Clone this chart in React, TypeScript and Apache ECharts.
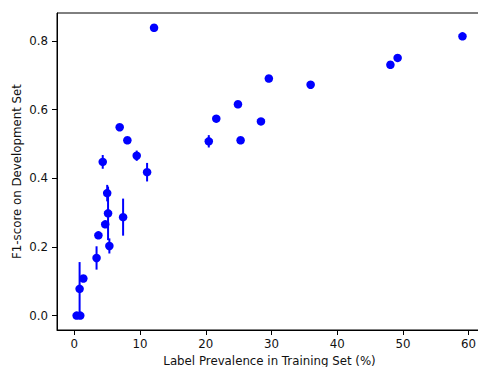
import React, { useEffect, useRef } from "react";
import * as echarts from "echarts";

const prevalence = [0.35, 0.9, 0.8, 1.37, 3.38, 3.66, 4.32, 4.7, 5.0, 5.13, 5.33, 6.9, 7.42, 8.07, 9.49, 11.07, 12.13, 20.46, 21.6, 24.9, 25.3, 28.4, 29.6, 35.96, 48.1, 49.2, 59.07];
const f1 = [0.0, 0.0, 0.078, 0.108, 0.168, 0.234, 0.448, 0.266, 0.357, 0.298, 0.203, 0.549, 0.287, 0.511, 0.466, 0.418, 0.839, 0.508, 0.574, 0.616, 0.511, 0.566, 0.691, 0.673, 0.731, 0.751, 0.814];
const f1Err = [0, 0, 0.078, 0, 0.034, 0, 0.02, 0.01, 0.024, 0.078, 0.022, 0.005, 0.054, 0.005, 0.015, 0.027, 0, 0.018, 0, 0, 0, 0, 0, 0, 0, 0, 0];
const xTicks = [0, 10, 20, 30, 40, 50, 60];
const yTicks = [0, 0.2, 0.4, 0.6, 0.8];

export default function App() {
  const ref = useRef<HTMLDivElement>(null);
  useEffect(() => {
    if (!ref.current) return;
    const chart = echarts.init(ref.current, null, { renderer: "svg" });
    const font = "DejaVu Sans";
    const fs = 11.8;
    const points = prevalence.map((x, i) => [x, f1[i]]);
    const errData = prevalence.map((x, i) => [x, f1[i] - f1Err[i], f1[i] + f1Err[i]]);
    chart.setOption({
      animation: false,
      grid: {
        left: 57,
        top: 13,
        width: 425,
        height: 317,
        show: true,
        borderColor: "#000",
        borderWidth: 1,
        containLabel: false,
        outerBoundsMode: "none",
      },
      xAxis: {
        type: "value",
        min: -2.64,
        max: 62.04,
        splitLine: { show: false },
        axisLine: { show: true, onZero: false, lineStyle: { color: "#000", width: 1 } },
        axisTick: { show: true, length: 5, lineStyle: { color: "#000" }, customValues: xTicks },
        axisLabel: { color: "#111", fontFamily: font, fontSize: fs, margin: 8, customValues: xTicks },
        name: "Label Prevalence in Training Set (%)",
        nameLocation: "middle",
        nameGap: 24,
        nameTextStyle: { color: "#111", fontFamily: font, fontSize: fs },
      },
      yAxis: {
        type: "value",
        min: -0.042,
        max: 0.882,
        splitLine: { show: false },
        axisLine: { show: true, onZero: false, lineStyle: { color: "#000", width: 1 } },
        axisTick: { show: true, length: 5, lineStyle: { color: "#000" }, customValues: yTicks },
        axisLabel: {
          color: "#111",
          fontFamily: font,
          fontSize: fs,
          margin: 9,
          customValues: yTicks,
          formatter: (v: number) => v.toFixed(1),
        },
        name: "F1-score on Development Set",
        nameLocation: "middle",
        nameGap: 34,
        nameMoveOverlap: false,
        nameTextStyle: { color: "#111", fontFamily: font, fontSize: fs },
      },
      series: [
        {
          type: "custom",
          data: errData,
          renderItem: (params: any, api: any) => {
            const x = api.value(0);
            const lo = api.value(1);
            const hi = api.value(2);
            if (hi - lo <= 0) return null;
            const p1 = api.coord([x, lo]);
            const p2 = api.coord([x, hi]);
            return {
              type: "line",
              shape: { x1: p1[0], y1: p1[1], x2: p2[0], y2: p2[1] },
              style: { stroke: "#0000ff", lineWidth: 2 },
            };
          },
          z: 2,
        },
        {
          type: "scatter",
          data: points,
          symbol: "circle",
          symbolSize: 8.5,
          itemStyle: { color: "#0000ff", opacity: 1 },
          z: 3,
        },
      ],
    });
    return () => chart.dispose();
  }, []);
  return (
    <div
      ref={ref}
      style={{ position: "fixed", left: 0, top: 0, width: 490, height: 367, background: "#fff" }}
    />
  );
}
